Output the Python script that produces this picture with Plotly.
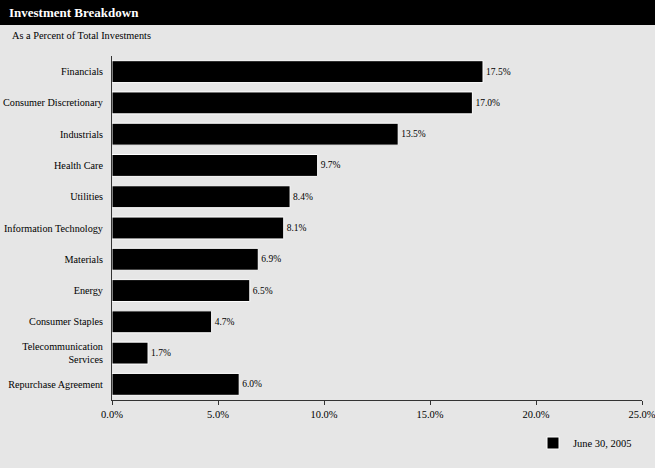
import plotly.graph_objects as go

categories = ["Financials", "Consumer Discretionary", "Industrials", "Health Care", "Utilities",
              "Information Technology", "Materials", "Energy", "Consumer Staples",
              "Telecommunication<br>Services", "Repurchase Agreement"]
values = [17.5, 17.0, 13.5, 9.7, 8.4, 8.1, 6.9, 6.5, 4.7, 1.7, 6.0]
tick_vals = [0, 5, 10, 15, 20, 25]
tick_text = ["0.0%", "5.0%", "10.0%", "15.0%", "20.0%", "25.0%"]
series_name = "June 30, 2005"

W, H = 655, 468
ML, MR, MT, MB = 112, 13, 56, 68
pw, ph = W - ML - MR, H - MT - MB
FONT = "Liberation Serif, Times New Roman, serif"

fig = go.Figure()
fig.add_trace(go.Bar(
    y=categories, x=values, orientation="h", name=series_name,
    marker=dict(color="#000000", line=dict(color="#ffffff", width=1)),
    width=0.7,
    text=[f"{v:.1f}%" for v in values], textposition="outside",
    textfont=dict(family=FONT, size=9.5, color="#000000"),
    cliponaxis=False, showlegend=True, hoverinfo="skip",
))

fig.update_layout(
    width=W, height=H, autosize=False,
    margin=dict(l=ML, r=MR, t=MT, b=MB, autoexpand=False),
    paper_bgcolor="#e6e6e6", plot_bgcolor="#e6e6e6",
    font=dict(family=FONT, size=10, color="#000000"),
    xaxis=dict(range=[0, 25], tickvals=tick_vals, ticktext=tick_text, automargin=False,
               ticklabeloverflow="allow",
               showgrid=False, zeroline=False, showline=True, linecolor="#333333",
               linewidth=1, ticks="outside", ticklen=4, tickcolor="#333333",
               tickfont=dict(family=FONT, size=10.5)),
    yaxis=dict(categoryorder="array", categoryarray=categories, autorange="reversed",
               automargin=False,
               showgrid=False, zeroline=False, showline=True, linecolor="#333333",
               linewidth=1, ticks="", ticklabelstandoff=6,
               tickfont=dict(family=FONT, size=10.2)),
    bargap=0.3,
    showlegend=True,
    legend=dict(orientation="h", x=(533 - ML) / pw, y=(MT + ph - 443) / ph,
                xanchor="left", yanchor="middle", bgcolor="rgba(0,0,0,0)",
                font=dict(family=FONT, size=10.5), itemwidth=30),
    shapes=[dict(type="rect", xref="paper", yref="paper",
                 x0=-ML / pw, x1=1 + MR / pw,
                 y0=1 + (MT - 25) / ph, y1=1 + MT / ph,
                 fillcolor="#000000", line=dict(width=0), layer="above")],
    annotations=[
        dict(text="<b>Investment Breakdown</b>", xref="paper", yref="paper",
             x=-(ML - 7) / pw, y=1 + (MT - 12.5) / ph, xanchor="left", yanchor="middle",
             showarrow=False, font=dict(family=FONT, size=13, color="#ffffff")),
        dict(text="As a Percent of Total Investments", xref="paper", yref="paper",
             x=-(ML - 10) / pw, y=1 + (MT - 36) / ph, xanchor="left", yanchor="middle",
             showarrow=False, font=dict(family=FONT, size=10.3, color="#000000")),
    ],
)

fig.write_html("out.html", config={"displayModeBar": False},
               post_script="document.body.style.margin='0';document.body.style.background='#e6e6e6';")
